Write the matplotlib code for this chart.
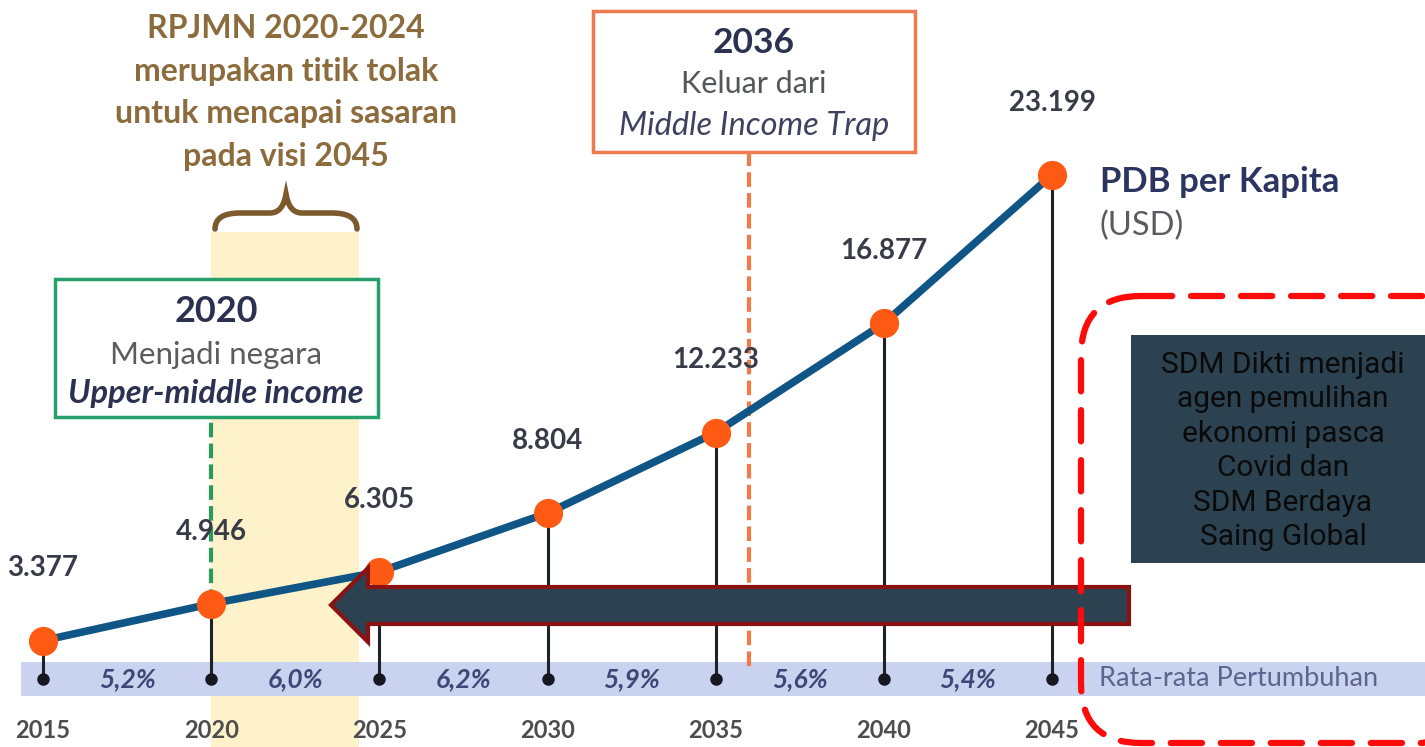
import numpy as np
import matplotlib.pyplot as plt
from matplotlib.patches import Rectangle, FancyBboxPatch, Polygon, PathPatch
from matplotlib.path import Path

plt.rcParams['font.family'] = ['Lato', 'DejaVu Sans']

years = [2015, 2020, 2025, 2030, 2035, 2040, 2045]
pdb = [3.377, 4.946, 6.305, 8.804, 12.233, 16.877, 23.199]
pdb_labels = ['3.377', '4.946', '6.305', '8.804', '12.233', '16.877', '23.199']
growth = ['5,2%', '6,0%', '6,2%', '5,9%', '5,6%', '5,4%']
rpjmn = ['RPJMN 2020-2024', 'merupakan titik tolak',
         'untuk mencapai sasaran', 'pada visi 2045']
note_lines = ['SDM Dikti menjadi', 'agen pemulihan', 'ekonomi pasca',
              'Covid dan', 'SDM Berdaya', 'Saing Global']
rpjmn_span = (2020, 2024.4)
upper_middle_year = 2020
trap_year = 2036

W, H = 1425, 747
fig = plt.figure(figsize=(W / 100, H / 100), dpi=100)

# chart axes: full figure, years on x, PDB (thousand USD) on y
ax = fig.add_axes([0, 0, 1, 1])
ax.set_xlim(2013.72, 2056.09)
ax.set_ylim(-1.15, 30.64)
ax.axis('off')

dot_level = 1.75
band_lo, band_hi = 1.02, 2.47

ax.axvspan(*rpjmn_span, ymin=0, ymax=0.69, color='#fdf2c9', zorder=0, lw=0)
ax.axhspan(band_lo, band_hi, xmin=0.015, xmax=1, color='#c9d3ef', zorder=1, lw=0)

ax.vlines(years, dot_level, pdb, color='#1e2126', lw=2.2, zorder=2)
ax.plot(years, [dot_level] * len(years), 'o', color='#15181f', ms=8, zorder=3)
ax.plot(years, pdb, color='#0f5585', lw=5.5, solid_capstyle='round', zorder=4)
ax.plot(years, pdb, 'o', color='#ff5a14', ms=20, zorder=5)

# milestone guide lines
ax.plot([upper_middle_year] * 2, [pdb[1], 12.85], color='#2a9a5e', lw=3,
        ls=(0, (3.5, 1.5)), zorder=3)
ax.plot([trap_year] * 2, [2.3, 24.17], color='#f07a48', lw=3,
        ls=(0, (3.5, 1.5)), zorder=3)

for x, v, lab in zip(years, pdb, pdb_labels):
    ax.annotate(lab, (x, v), xytext=(0, 52), textcoords='offset points',
                ha='center', va='center', fontsize=20, fontweight='bold',
                color='#383c48', zorder=6)

mids = [(a + b) / 2 for a, b in zip(years[:-1], years[1:])]
for x, g in zip(mids, growth):
    ax.text(x, (band_lo + band_hi) / 2, g, ha='center', va='center',
            fontsize=19, fontweight='bold', fontstyle='italic',
            color='#3d4878', zorder=6)

for x in years:
    ax.text(x, -0.45, str(x), ha='center', va='center', fontsize=17,
            fontweight='bold', color='#4d4d4d')

ax.text(2046.4, (band_lo + band_hi) / 2, 'Rata-rata Pertumbuhan', ha='left',
        va='center', fontsize=19.5, color='#5b6590', zorder=6)

# overlay axes in pixel units for boxes and callouts
ov = fig.add_axes([0, 0, 1, 1], zorder=5)
ov.set_xlim(0, W)
ov.set_ylim(H, 0)
ov.axis('off')
ov.patch.set_alpha(0)

for i, line in enumerate(rpjmn):
    ov.text(286, 29 + i * 42.5, line, ha='center', va='center', fontsize=23,
            fontweight='bold', color='#8c6b3c')

brace = Path([(215, 229), (215, 213), (240, 213), (270, 213), (283, 213),
              (286, 194), (289, 213), (302, 213), (332, 213), (357, 213), (357, 229)],
             [Path.MOVETO, Path.CURVE3, Path.CURVE3, Path.LINETO, Path.CURVE3,
              Path.CURVE3, Path.CURVE3, Path.CURVE3, Path.LINETO, Path.CURVE3, Path.CURVE3])
ov.add_patch(PathPatch(brace, fill=False, ec='#7d5a2e', lw=4, capstyle='round'))

ov.add_patch(Rectangle((55, 279), 323, 138, fc='white', ec='#26a06a', lw=2.5))
ov.text(216, 311, '2020', ha='center', va='center', fontsize=26,
        fontweight='bold', color='#2b3150')
ov.text(216, 355, 'Menjadi negara', ha='center', va='center', fontsize=22.5,
        color='#5c5c60')
ov.text(216, 394, 'Upper-middle income', ha='center', va='center', fontsize=23.5,
        fontweight='bold', fontstyle='italic', color='#2b3150')

ov.add_patch(Rectangle((593, 11), 322, 141, fc='white', ec='#ee7a50', lw=2.5))
ov.text(754, 43, '2036', ha='center', va='center', fontsize=25.5,
        fontweight='bold', color='#2b3150')
ov.text(754, 84, 'Keluar dari', ha='center', va='center', fontsize=22,
        color='#55565c')
ov.text(754, 126, 'Middle Income Trap', ha='center', va='center', fontsize=23.5,
        fontstyle='italic', color='#3e4260')

ov.text(1100, 182, 'PDB per Kapita', ha='left', va='center', fontsize=25,
        fontweight='bold', color='#2b3560')
ov.text(1100, 226, '(USD)', ha='left', va='center', fontsize=23.5, color='#5a5a60')

arrow = Polygon([(331, 605), (368, 568), (368, 587), (1129, 587), (1129, 624),
                 (368, 624), (368, 642)], closed=True, fc='#2c4250',
                ec='#8b1212', lw=3, joinstyle='miter')
ov.add_patch(arrow)

ov.add_patch(FancyBboxPatch((1081, 296), 400, 447,
                            boxstyle='round,pad=0,rounding_size=60',
                            fill=False, ec='#ff0a0a', lw=4.5,
                            ls=(0, (5, 3)), capstyle='round'))

ov.add_patch(Rectangle((1131, 335), 300, 228, fc='#2c4250', ec='none'))
for i, line in enumerate(note_lines):
    ov.text(1283, 365 + i * 34.4, line, ha='center', va='center',
            fontsize=21.5, color='#0a0a0a', family=['Roboto', 'DejaVu Sans'])

fig.savefig('out.png', dpi=100)
